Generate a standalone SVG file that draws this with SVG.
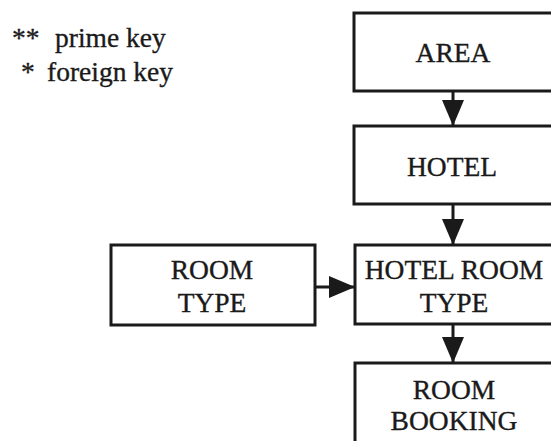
<svg xmlns="http://www.w3.org/2000/svg" width="551" height="441" viewBox="0 0 551 441">
  <style>
    .box { fill: #ffffff; stroke: #1a1a1a; stroke-width: 3; }
    .lbl { font-family: "Liberation Serif", "Times New Roman", serif; font-size: 27.5px; fill: #1a1a1a; stroke: #1a1a1a; stroke-width: 0.35; text-anchor: middle; }
    .key { font-family: "Liberation Serif", "Times New Roman", serif; font-size: 27.5px; fill: #1a1a1a; stroke: #1a1a1a; stroke-width: 0.35; }
    .link { stroke: #1a1a1a; stroke-width: 3; fill: none; marker-end: url(#head); }
  </style>
  <defs>
    <marker id="head" markerUnits="userSpaceOnUse" markerWidth="26" markerHeight="22" refX="26" refY="11" orient="auto">
      <path d="M0,0 L26,11 L0,22 Z" fill="#1a1a1a"/>
    </marker>
  </defs>
  <rect width="551" height="441" fill="#ffffff"/>

  <!-- legend -->
  <g id="legend">
    <text class="key" x="12" y="47">**</text>
    <text class="key" x="55" y="47">prime key</text>
    <text class="key" x="21" y="81">*</text>
    <text class="key" x="47" y="81">foreign key</text>
  </g>

  <!-- connectors -->
  <g id="connectors">
    <line class="link" x1="453" y1="91" x2="453" y2="126"/>
    <line class="link" x1="453" y1="204" x2="453" y2="245"/>
    <line class="link" x1="453" y1="324" x2="453" y2="363"/>
    <line class="link" x1="315" y1="287" x2="355" y2="287"/>
  </g>

  <g id="area">
    <rect class="box" x="354" y="13" width="210" height="78"/>
    <text class="lbl" x="453" y="62">AREA</text>
  </g>

  <g id="hotel">
    <rect class="box" x="354" y="126" width="210" height="78"/>
    <text class="lbl" x="452" y="176">HOTEL</text>
  </g>

  <g id="hotel-room-type">
    <rect class="box" x="355" y="245" width="210" height="79"/>
    <text class="lbl" x="454" y="279">HOTEL ROOM</text>
    <text class="lbl" x="454" y="312">TYPE</text>
  </g>

  <g id="room-type">
    <rect class="box" x="111" y="245" width="204" height="80"/>
    <text class="lbl" x="212" y="279">ROOM</text>
    <text class="lbl" x="212" y="312">TYPE</text>
  </g>

  <g id="room-booking">
    <rect class="box" x="355" y="363" width="210" height="90"/>
    <text class="lbl" x="454" y="399">ROOM</text>
    <text class="lbl" x="454" y="430">BOOKING</text>
  </g>
</svg>
